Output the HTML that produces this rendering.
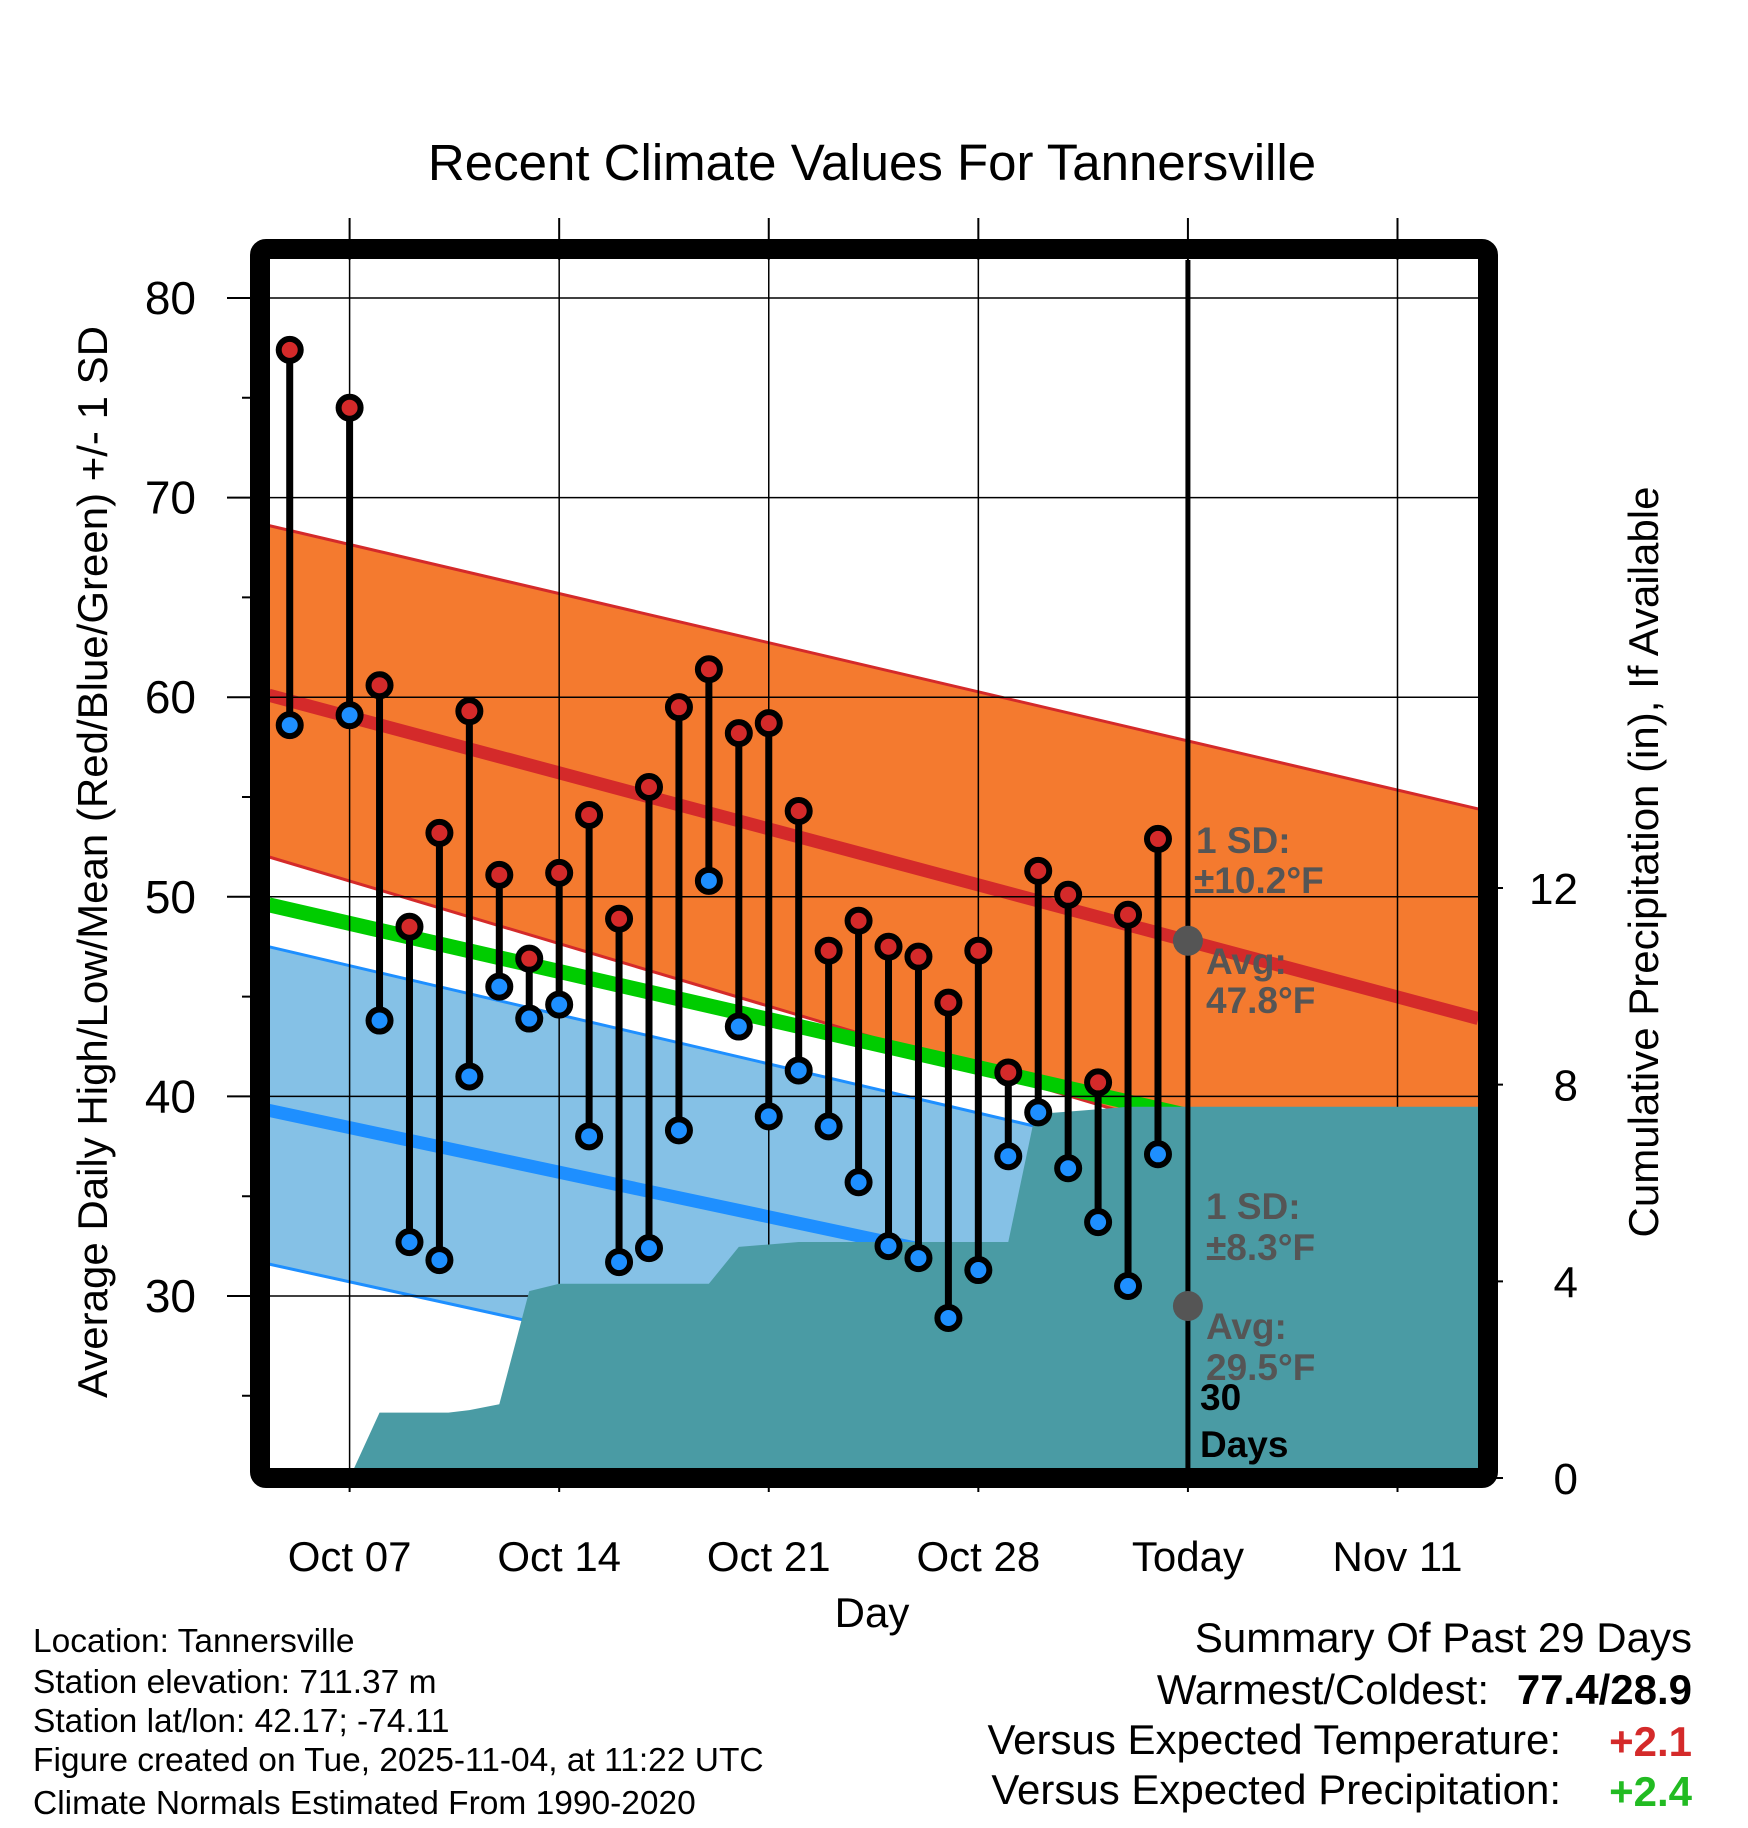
<!DOCTYPE html>
<html><head><meta charset="utf-8"><style>
html,body{margin:0;padding:0;background:#fff}
svg{display:block;font-family:"Liberation Sans",Arial,sans-serif}
</style></head><body>
<svg id="chart" width="1748" height="1828" viewBox="0 0 1748 1828">
<g id="layers"></g>
</svg>
<script>
const days=[5,7,8,9,10,11,12,13,14,15,16,17,18,19,20,21,22,23,24,25,26,27,28,29,30,31,32,33,34];
const highs=[77.4,74.5,60.6,48.5,53.2,59.3,51.1,46.9,51.2,54.1,48.9,55.5,59.5,61.4,58.2,58.7,54.3,47.3,48.8,47.5,47.0,44.7,47.3,41.2,51.3,50.1,40.7,49.1,52.9];
const lows=[58.6,59.1,43.8,32.7,31.8,41.0,45.5,43.9,44.6,38.0,31.7,32.4,38.3,50.8,43.5,39.0,41.3,38.5,35.7,32.5,31.9,28.9,31.3,37.0,39.2,36.4,33.7,30.5,37.1];
const normDays=[4.3,44.7];
const highUpper=[68.6,54.4];
const highMean=[60.1,43.9];
const highLower=[52.0,33.9];
const avgMean=[49.6,35.7];
const lowUpper=[47.5,33.3];
const lowMean=[39.3,26.4];
const lowLower=[31.6,18.3];
const precipDays=[7,8,10.3,11,12,13,14,19,20,21,22,29,29.9,31,32,33,34,44.7];
const precipCum=[0,1.33,1.33,1.38,1.5,3.8,3.95,3.95,4.7,4.75,4.8,4.8,7.4,7.45,7.5,7.55,7.55,7.55];
const xTickDays=[7,14,21,28,35,42];
const xTickLabels=["Oct 07","Oct 14","Oct 21","Oct 28","Today","Nov 11"];
const yTicks=[30,40,50,60,70,80];
const pTicks=[0,4,8,12];

const L=270,R=1478,T=260,B=1468;
const X=d=>349.6+(d-7)*29.94;
const Y=t=>298+(80-t)*19.96;
const P=p=>1478-p*49.17;
const NS="http://www.w3.org/2000/svg";
const svg=document.getElementById('chart');
function mk(tag,attrs,parent){const e=document.createElementNS(NS,tag);for(const k in attrs)e.setAttribute(k,attrs[k]);(parent||svg).appendChild(e);return e;}
const defs=mk('defs',{});
const cp=mk('clipPath',{id:'plotclip'},defs);
mk('rect',{x:L,y:T,width:R-L,height:B-T},cp);
const plot=mk('g',{'clip-path':'url(#plotclip)'});



function band(up,lo,fill,stroke,name){
  let pts=normDays.map((d,i)=>X(d)+','+Y(up[i]));
  pts=pts.concat(normDays.map((d,i)=>X(d)+','+Y(lo[i])).reverse());
  const p=mk('polygon',{points:pts.join(' '),fill:fill},plot);
  
  
  const l1=mk('polyline',{points:normDays.map((d,i)=>X(d)+','+Y(up[i])).join(' '),fill:'none',stroke:stroke,'stroke-width':3},plot);
  
  
  const l2=mk('polyline',{points:normDays.map((d,i)=>X(d)+','+Y(lo[i])).join(' '),fill:'none',stroke:stroke,'stroke-width':3},plot);
  
  
}
band(highUpper,highLower,'#f47a2f','#d42a2a','high-sd-band');
band(lowUpper,lowLower,'#85c1e6','#1e8fff','low-sd-band');
function line(vals,color,w,name){
  const l=mk('polyline',{points:normDays.map((d,i)=>X(d)+','+Y(vals[i])).join(' '),fill:'none',stroke:color,'stroke-width':w},plot);
  
  
}
line(avgMean,'#00cc00',15,'mean-avg-line');
line(highMean,'#d42a2a',13,'mean-high-line');
line(lowMean,'#1e8fff',13,'mean-low-line');
yTicks.forEach(t=>{const g=mk('line',{x1:L,x2:R,y1:Y(t),y2:Y(t),stroke:'#000','stroke-width':1.5},plot);

});
xTickDays.forEach(d=>{if(d===35)return;const g=mk('line',{x1:X(d),x2:X(d),y1:T,y2:B,stroke:'#000','stroke-width':1.5},plot);

});
let pp=precipDays.map((d,i)=>X(d)+','+P(precipCum[i]));
pp.push(X(precipDays[precipDays.length-1])+','+(B+20));pp.push(X(precipDays[0])+','+(B+20));
const pa=mk('polygon',{points:pp.join(' '),fill:'#4a9ba4'},plot);


const tl=mk('line',{x1:X(35),x2:X(35),y1:T,y2:B,stroke:'#000','stroke-width':5},plot);


days.forEach((d,i)=>{
  const s=mk('line',{x1:X(d),x2:X(d),y1:Y(highs[i]),y2:Y(lows[i]),stroke:'#000','stroke-width':7},plot);
  
  
});
days.forEach((d,i)=>{
  const h=mk('circle',{cx:X(d),cy:Y(highs[i]),r:11,fill:'#d42a2a',stroke:'#000','stroke-width':6},plot);
  
  
  const l=mk('circle',{cx:X(d),cy:Y(lows[i]),r:11,fill:'#1e8fff',stroke:'#000','stroke-width':6},plot);
  
  
});
const g1=mk('circle',{cx:X(35),cy:Y(47.8),r:15,fill:'#555'},plot);


const g2=mk('circle',{cx:X(35),cy:Y(29.5),r:15,fill:'#555'},plot);


function txt(s,x,y,attrs,name,parent){const t=mk('text',Object.assign({x:x,y:y},attrs),parent||svg);t.textContent=s;

return t;}
const ann={'font-size':37,'font-weight':'bold',fill:'#555'};
txt('1 SD:',1196,853,ann,'high-sd-label',plot);
txt('±10.2°F',1194,893,ann,'high-sd-value',plot);
txt('Avg:',1206,974,ann,'high-avg-label',plot);
txt('47.8°F',1206,1013,ann,'high-avg-value',plot);
txt('1 SD:',1206,1219,ann,'low-sd-label',plot);
txt('±8.3°F',1206,1260,ann,'low-sd-value',plot);
txt('Avg:',1206,1339,ann,'low-avg-label',plot);
txt('29.5°F',1206,1380,ann,'low-avg-value',plot);
txt('30',1200,1410,{'font-size':37,'font-weight':'bold',fill:'#000'},'days-count',plot);
txt('Days',1200,1457,{'font-size':37,'font-weight':'bold',fill:'#000'},'days-label',plot);
yTicks.forEach(t=>{mk('line',{x1:227,x2:L,y1:Y(t),y2:Y(t),stroke:'#000','stroke-width':2});
txt(String(t),196,Y(t)+16,{'font-size':46,'text-anchor':'end'},'y-tick-label');});
[25,35,45,55,65,75].forEach(t=>mk('line',{x1:242,x2:L,y1:Y(t),y2:Y(t),stroke:'#000','stroke-width':2}));
xTickDays.forEach((d,i)=>{
  mk('line',{x1:X(d),x2:X(d),y1:218,y2:T,stroke:'#000','stroke-width':2});
  mk('line',{x1:X(d),x2:X(d),y1:B,y2:1492,stroke:'#000','stroke-width':2});
  txt(xTickLabels[i],X(d),1571,{'font-size':42,'text-anchor':'middle'},'x-tick-label');
});
pTicks.forEach(p=>{mk('line',{x1:R,x2:1503,y1:P(p),y2:P(p),stroke:'#000','stroke-width':2});
txt(String(p),1578,P(p)+16,{'font-size':44,'text-anchor':'end'},'precip-tick-label');});
const fr=mk('rect',{x:260,y:249,width:1228,height:1229,fill:'none',stroke:'#000','stroke-width':20,rx:6});


txt('Recent Climate Values For Tannersville',872,180,{'font-size':51,'text-anchor':'middle'},'chart-title');
txt('Day',872,1627,{'font-size':42,'text-anchor':'middle'},'x-axis-title');
txt('Average Daily High/Low/Mean (Red/Blue/Green) +/- 1 SD',107,862,{'font-size':42,'text-anchor':'middle',transform:'rotate(-90 107 862)'},'y-axis-title');
txt('Cumulative Precipitation (in), If Available',1658,862,{'font-size':42,'text-anchor':'middle',transform:'rotate(-90 1658 862)'},'precip-axis-title');
const info=['Location: Tannersville','Station elevation: 711.37 m','Station lat/lon: 42.17; -74.11','Figure created on Tue, 2025-11-04, at 11:22 UTC','Climate Normals Estimated From 1990-2020'];
const infoY=[1652,1693,1732,1771,1814];
info.forEach((s,i)=>txt(s,33,infoY[i],{'font-size':33.5},'station-info-line'));
txt('Summary Of Past 29 Days',1692,1652,{'font-size':42,'text-anchor':'end'},'summary-title');
txt('Warmest/Coldest:',1489,1704,{'font-size':42,'text-anchor':'end'},'warmest-coldest-label');
txt('77.4/28.9',1692,1704,{'font-size':42,'text-anchor':'end','font-weight':'bold'},'warmest-coldest-value');
txt('Versus Expected Temperature:',1561,1754,{'font-size':42,'text-anchor':'end'},'temp-departure-label');
txt('+2.1',1692,1756,{'font-size':42,'text-anchor':'end','font-weight':'bold',fill:'#d42a2a'},'temp-departure-value');
txt('Versus Expected Precipitation:',1561,1804,{'font-size':42,'text-anchor':'end'},'precip-departure-label');
txt('+2.4',1692,1806,{'font-size':42,'text-anchor':'end','font-weight':'bold',fill:'#22bb22'},'precip-departure-value');
</script>
</body></html>
